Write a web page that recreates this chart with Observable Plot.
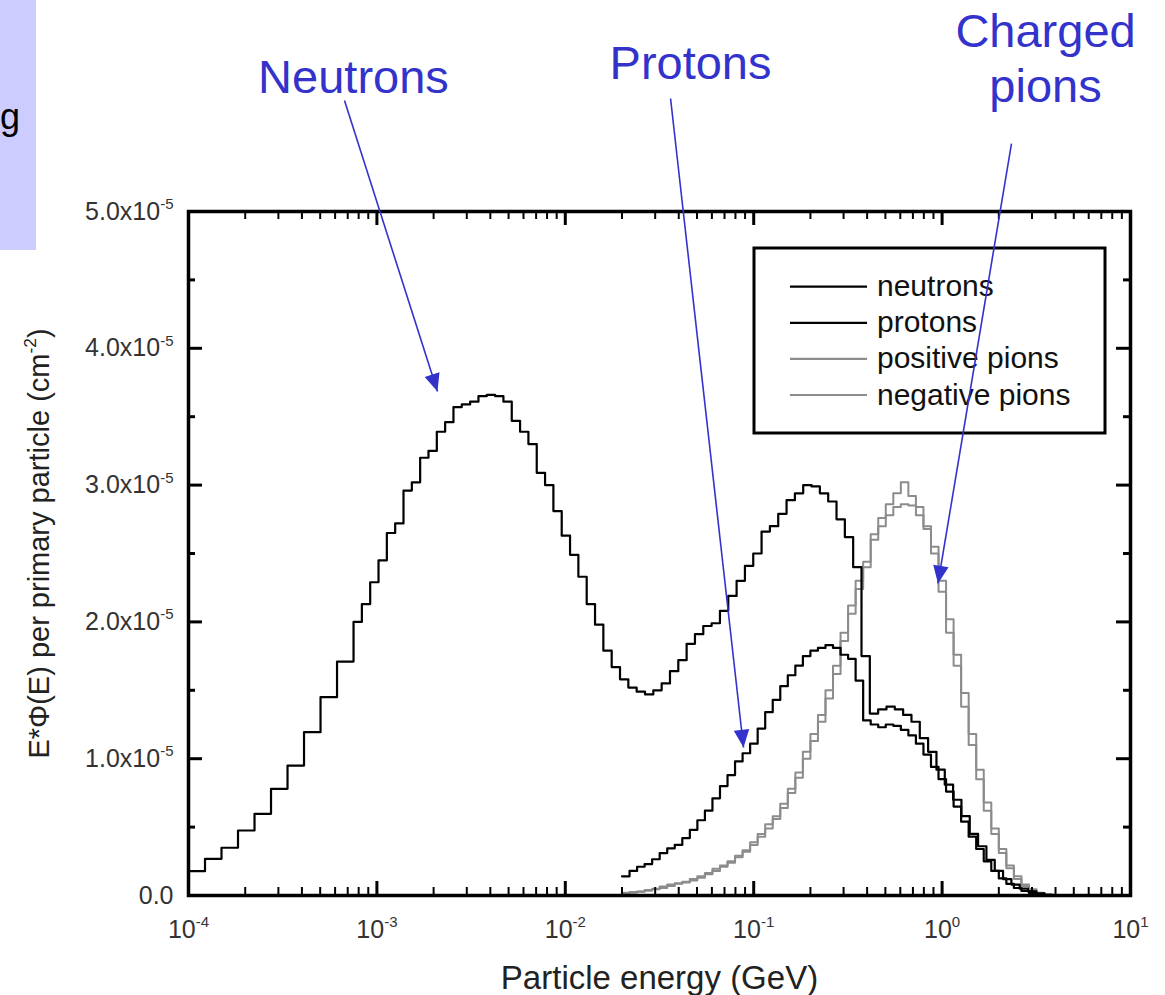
<!DOCTYPE html>
<html><head><meta charset="utf-8">
<script src="https://cdn.jsdelivr.net/npm/d3@7"></script>
<script src="https://cdn.jsdelivr.net/npm/@observablehq/plot@0.6"></script>
<style>
body{margin:0;background:#fff;}
#wrap{position:relative;width:1165px;height:995px;overflow:hidden;font-family:"Liberation Sans",Arial,sans-serif;}
#side{position:absolute;left:0;top:0;width:36px;height:250px;background:#ccccff;overflow:hidden;}
#side span{position:absolute;left:0px;top:99px;font-size:36px;color:#000;line-height:1;}
</style></head><body>
<div id="wrap"><div id="chart"></div><div id="side"><span>g</span></div></div>
<script>
// ---------- DATA (values in units of 1e-5 cm^-2 per primary) ----------
// Neutron histogram: two bin groups, log10(E/GeV) start, bin width in decades
const neutronLowStartLog = -4;
const neutronLowBinWidth = 0.0876;
const neutronLow = [0.178,0.268,0.349,0.475,0.597,0.78,0.95,1.194,1.45,1.71];
const neutronHighStartLog = -3.124;
const neutronHighBinWidth = 0.0442;
const neutronHigh = [
 2.00,2.13,2.29,2.45,2.65,2.72,2.96,3.02,3.20,3.25,
 3.39,3.46,3.57,3.59,3.61,3.65,3.66,3.65,3.61,3.47,
 3.39,3.30,3.09,3.00,2.81,2.63,2.49,2.33,2.13,1.98,
 1.79,1.67,1.58,1.52,1.49,1.47,1.50,1.55,1.64,1.72,
 1.84,1.91,1.97,1.99,2.08,2.19,2.30,2.41,2.50,2.66,
 2.70,2.79,2.89,2.94,3.00,2.99,2.94,2.88,2.75,2.62,
 2.40,1.75,1.33,1.36,1.38,1.36,1.32,1.27,1.15,1.05,
 0.92,0.81,0.70,0.58,0.45,0.36,0.26,0.18,0.12,0.08,
 0.05,0.03,0.015,0.005];
// Protons and pions: bins from 0.02 GeV, 0.04 decade wide
const hadronStartLog = Math.log10(0.02);
const hadronBinWidth = 0.04;
const protons = [
 0.14,0.18,0.21,0.23,0.265,0.31,0.345,0.37,0.42,0.48,
 0.55,0.62,0.71,0.80,0.88,0.98,1.04,1.11,1.22,1.34,
 1.43,1.53,1.61,1.68,1.75,1.79,1.81,1.83,1.81,1.76,
 1.73,1.57,1.28,1.25,1.23,1.25,1.24,1.21,1.17,1.11,
 1.03,0.94,0.85,0.76,0.65,0.54,0.43,0.34,0.25,0.18,
 0.125,0.085,0.055,0.033,0.018,0.008,0.003,0.001];
const positivePions = [
 0.02,0.025,0.03,0.04,0.05,0.065,0.08,0.09,0.10,0.12,
 0.14,0.165,0.195,0.22,0.25,0.29,0.33,0.39,0.45,0.52,
 0.58,0.67,0.78,0.90,1.05,1.18,1.32,1.50,1.68,1.92,
 2.12,2.30,2.44,2.64,2.76,2.86,2.94,3.02,2.92,2.84,
 2.68,2.50,2.22,1.92,1.68,1.38,1.10,0.85,0.62,0.45,
 0.31,0.20,0.12,0.07,0.04,0.016,0.006,0.002];
const negativePions = [
 0.015,0.02,0.028,0.035,0.045,0.055,0.07,0.085,0.095,0.11,
 0.13,0.155,0.18,0.21,0.24,0.28,0.32,0.37,0.43,0.49,
 0.56,0.64,0.75,0.86,1.00,1.13,1.27,1.44,1.62,1.86,
 2.06,2.24,2.40,2.60,2.70,2.78,2.84,2.86,2.85,2.78,
 2.70,2.55,2.30,2.02,1.76,1.48,1.18,0.92,0.68,0.49,
 0.34,0.22,0.14,0.08,0.045,0.02,0.007,0.002];

const legendNames = ["neutrons","protons","positive pions","negative pions"];
const legendColors = ["#000000","#000000","#8c8c8c","#8c8c8c"];

const xMajorTicks = [1e-4,1e-3,1e-2,1e-1,1,10];
const xTickLabels = ["10^{-4}","10^{-3}","10^{-2}","10^{-1}","10^{0}","10^{1}"];
const yMajorTicks = [0,1e-5,2e-5,3e-5,4e-5,5e-5];
const yTickLabels = ["0.0","1.0x10^{-5}","2.0x10^{-5}","3.0x10^{-5}","4.0x10^{-5}","5.0x10^{-5}"];
const yMinorTicks = [0.5e-5,1.5e-5,2.5e-5,3.5e-5,4.5e-5];
const xTitle = "Particle energy (GeV)";
const yTitle = "E*\u03A6(E) per primary particle (cm^{-2})";

// Annotations (text anchors and arrows, in data coordinates)
const annoLabels = ["Neutrons","Protons","Charged\npions"];
const annoTextE = [7.51e-4, 0.0462, 3.54];
const annoTextY = [5.863e-5, 5.965e-5, 5.797e-5];
const arrowFromE = [6.73e-4, 0.0362, 2.335];
const arrowFromY = [5.811e-5, 5.826e-5, 5.497e-5];
const arrowToE = [2.097e-3, 0.0883, 0.951];
const arrowToY = [3.684e-5, 1.082e-5, 2.281e-5];

// ---------- BUILD ----------
function hist(startLog, width, values, closeEnd=true){
  const pts = values.map((v,i)=>({E: 10**(startLog+i*width), v: v*1e-5}));
  if (closeEnd) pts.push({E: 10**(startLog+values.length*width), v: values[values.length-1]*1e-5});
  return pts;
}
const neutronPts = hist(neutronLowStartLog, neutronLowBinWidth, neutronLow, false)
  .concat(hist(neutronHighStartLog, neutronHighBinWidth, neutronHigh));
const protonPts = hist(hadronStartLog, hadronBinWidth, protons);
const pipPts = hist(hadronStartLog, hadronBinWidth, positivePions);
const pimPts = hist(hadronStartLog, hadronBinWidth, negativePions);

const xMinorTicks = xMajorTicks.slice(0,-1).flatMap(d=>[2,3,4,5,6,7,8,9].map(k=>k*d));
const annos = annoLabels.map((t,i)=>({t, x:annoTextE[i], y:annoTextY[i], x1:arrowFromE[i], y1:arrowFromY[i], x2:arrowToE[i], y2:arrowToY[i]}));

const W=1165,H=995,mL=188,mR=35,mT=211,mB=100;
const pw=W-mL-mR, ph=H-mT-mB;
const blue="#3333cc";

const svg = Plot.plot({
  width:W, height:H, marginLeft:mL, marginRight:mR, marginTop:mT, marginBottom:mB,
  x:{type:"log", domain:[1e-4,10], axis:null},
  y:{domain:[0,5e-5], axis:null},
  style:{fontFamily:'"Liberation Sans", Arial, sans-serif', background:"transparent", overflow:"visible"},
  marks:[
    Plot.line(pipPts,{x:"E",y:"v",curve:"step-after",stroke:legendColors[2],strokeWidth:2}),
    Plot.line(pimPts,{x:"E",y:"v",curve:"step-after",stroke:legendColors[3],strokeWidth:2}),
    Plot.line(protonPts,{x:"E",y:"v",curve:"step-after",stroke:legendColors[1],strokeWidth:2.2}),
    Plot.line(neutronPts,{x:"E",y:"v",curve:"step-after",stroke:legendColors[0],strokeWidth:2.2}),
    // ticks (inward, all four sides)
    Plot.ruleX(xMajorTicks,{x:d=>d,insetTop:ph-14,strokeWidth:3}),
    Plot.ruleX(xMajorTicks,{x:d=>d,insetBottom:ph-14,strokeWidth:3}),
    Plot.ruleX(xMinorTicks,{x:d=>d,insetTop:ph-8,strokeWidth:2}),
    Plot.ruleX(xMinorTicks,{x:d=>d,insetBottom:ph-8,strokeWidth:2}),
    Plot.ruleY(yMajorTicks,{y:d=>d,insetRight:pw-14,strokeWidth:3}),
    Plot.ruleY(yMajorTicks,{y:d=>d,insetLeft:pw-14,strokeWidth:3}),
    Plot.ruleY(yMinorTicks,{y:d=>d,insetRight:pw-7,strokeWidth:3}),
    Plot.ruleY(yMinorTicks,{y:d=>d,insetLeft:pw-7,strokeWidth:3}),
    Plot.frame({stroke:"#000",strokeWidth:3.5}),
    // tick labels
    Plot.text(xMajorTicks,{x:d=>d,text:(d,i)=>xTickLabels[i],frameAnchor:"bottom",textAnchor:"middle",lineAnchor:"bottom",dy:42,fontSize:25,fill:"#333"}),
    Plot.text(yMajorTicks,{y:d=>d,text:(d,i)=>yTickLabels[i],frameAnchor:"left",textAnchor:"end",dx:-15,fontSize:25,fill:"#333"}),
    // axis titles
    Plot.text([xTitle],{text:d=>d,frameAnchor:"bottom",textAnchor:"middle",lineAnchor:"bottom",dy:93,fontSize:33,fill:"#222"}),
    Plot.text([yTitle],{text:d=>d,frameAnchor:"left",textAnchor:"middle",rotate:-90,lineAnchor:"bottom",dx:-140,dy:-10,fontSize:29,fill:"#222"}),
    // annotations
    Plot.link(annos,{x1:"x1",y1:"y1",x2:"x2",y2:"y2",stroke:blue,strokeWidth:1.6,ariaLabel:"annotation-arrow"}),
    Plot.text(annos,{x:"x",y:"y",text:"t",fill:blue,fontSize:47,textAnchor:"middle",lineAnchor:"bottom",lineHeight:1.17})
  ]
});
document.getElementById("chart").appendChild(svg);

const s = d3.select(svg);
// arrowheads
const defs = s.insert("defs",":first-child");
defs.append("marker").attr("id","tri").attr("markerUnits","userSpaceOnUse")
  .attr("markerWidth",20).attr("markerHeight",20).attr("viewBox","-17 -9 18 18")
  .attr("refX",0).attr("refY",0).attr("orient","auto")
  .append("path").attr("d","M-16,-7L0,0L-16,7Z").attr("fill",blue);
let linkG = svg.querySelector('g[aria-label="annotation-arrow"]') || svg.querySelector('g[aria-label="link"]');
d3.select(linkG).selectAll("path").attr("marker-end","url(#tri)");

// superscripts
const NS="http://www.w3.org/2000/svg";
svg.querySelectorAll("text").forEach(t=>{
  const str=t.textContent;
  if(!str.includes("^{")) return;
  const fs=parseFloat(getComputedStyle(t).fontSize)||25;
  t.textContent="";
  const parts=str.split(/\^\{([^}]*)\}/);
  let raised=false;
  parts.forEach((p,i)=>{
    if(p==="") return;
    const ts=document.createElementNS(NS,"tspan");
    ts.textContent=p;
    if(i%2===1){ts.setAttribute("font-size",(fs*0.6).toFixed(1));ts.setAttribute("dy",(-fs*0.42).toFixed(1));raised=true;}
    else if(raised){ts.setAttribute("dy",(fs*0.42).toFixed(1));raised=false;}
    t.appendChild(ts);
  });
});

// legend (placed beneath the annotation arrows)
const lgNode = document.createElementNS(NS,"g");
svg.insertBefore(lgNode, linkG);
const lg=d3.select(lgNode).attr("transform","translate(754,248)")
  .attr("font-family",'"Liberation Sans", Arial, sans-serif').attr("text-anchor","start");
lg.append("rect").attr("width",351).attr("height",185).attr("fill","#fff").attr("stroke","#000").attr("stroke-width",3);
legendNames.forEach((n,i)=>{
  const y=38.7+i*36.1;
  lg.append("line").attr("x1",36).attr("x2",113).attr("y1",y).attr("y2",y).attr("stroke",legendColors[i]).attr("stroke-width",2.2);
  lg.append("text").attr("x",123).attr("y",y+9.5).attr("font-size",30).attr("fill","#111").attr("text-anchor","start").text(n);
});
</script>
</body></html>
